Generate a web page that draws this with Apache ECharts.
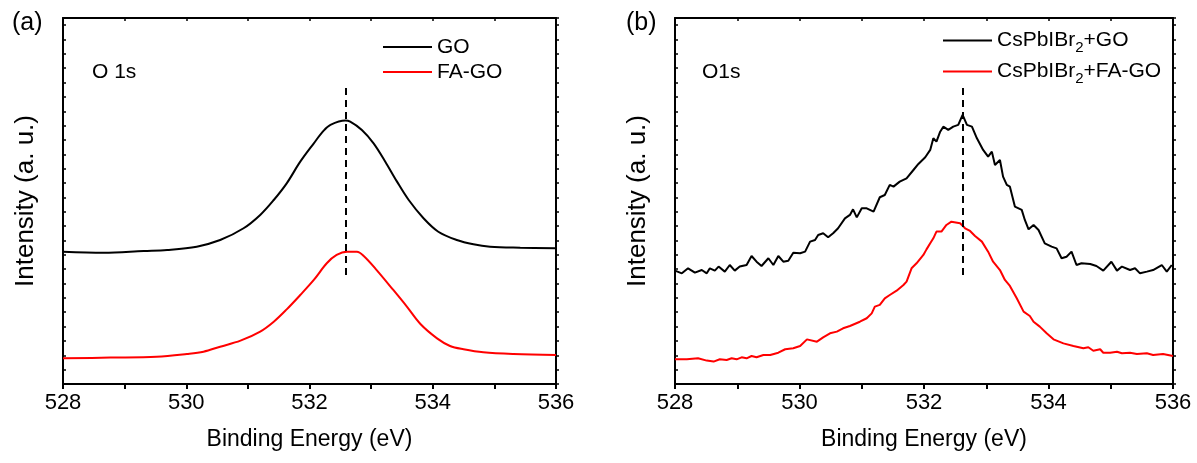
<!DOCTYPE html>
<html>
<head>
<meta charset="utf-8">
<script src="https://cdn.jsdelivr.net/npm/echarts@6/dist/echarts.min.js"></script>
<style>
html,body{margin:0;padding:0;background:#fff;}
#chart{width:1197px;height:463px;}
</style>
</head>
<body>
<div id="chart"></div>
<script>
// ---------- Data (Binding energy in eV, intensity in arbitrary units) ----------
const xTicks = [528, 530, 532, 534, 536];

// Panel (a)
const goEnergy = [528.0, 528.66, 529.31, 529.69, 530.17, 530.55, 530.93, 531.20, 531.42, 531.63, 531.85, 532.07, 532.23, 532.34, 532.58, 532.66, 532.85, 533.04, 533.23, 533.42, 533.61, 533.85, 534.09, 534.39, 534.66, 534.93, 535.42, 536.0];
const goIntensity = [9.22, 9.15, 9.27, 9.34, 9.57, 10.03, 10.85, 11.78, 12.82, 13.98, 15.49, 16.77, 17.65, 18.05, 18.35, 18.28, 17.70, 16.77, 15.49, 14.10, 12.82, 11.55, 10.61, 10.03, 9.73, 9.57, 9.50, 9.46];

const faGoEnergy = [528.0, 528.77, 529.52, 530.01, 530.28, 530.55, 530.88, 531.20, 531.42, 531.63, 531.85, 532.07, 532.28, 532.44, 532.61, 532.77, 532.88, 533.09, 533.36, 533.58, 533.80, 534.07, 534.28, 534.50, 534.82, 535.31, 536.0];
const faGoIntensity = [1.79, 1.84, 1.90, 2.09, 2.25, 2.60, 3.02, 3.65, 4.34, 5.20, 6.20, 7.25, 8.41, 8.99, 9.22, 9.22, 8.92, 7.94, 6.55, 5.39, 4.18, 3.18, 2.65, 2.42, 2.21, 2.09, 2.02];

// Panel (b)
const csGoEnergy = [528.0, 528.11, 528.21, 528.32, 528.43, 528.51, 528.56, 528.64, 528.70, 528.80, 528.88, 528.96, 529.04, 529.15, 529.23, 529.31, 529.39, 529.50, 529.58, 529.66, 529.74, 529.82, 529.90, 530.01, 530.09, 530.17, 530.25, 530.30, 530.38, 530.46, 530.54, 530.62, 530.73, 530.81, 530.86, 530.92, 531.00, 531.08, 531.19, 531.29, 531.37, 531.45, 531.51, 531.61, 531.72, 531.83, 531.91, 532.02, 532.10, 532.15, 532.20, 532.26, 532.31, 532.39, 532.47, 532.55, 532.62, 532.69, 532.77, 532.85, 532.95, 533.03, 533.09, 533.14, 533.22, 533.27, 533.33, 533.38, 533.46, 533.57, 533.62, 533.68, 533.76, 533.84, 533.94, 534.05, 534.13, 534.21, 534.29, 534.37, 534.45, 534.53, 534.67, 534.77, 534.88, 535.01, 535.10, 535.18, 535.31, 535.39, 535.47, 535.58, 535.68, 535.82, 535.90, 535.98];
const csGoIntensity = [7.90, 7.71, 8.06, 7.76, 7.94, 7.71, 8.06, 7.90, 8.18, 7.83, 8.29, 7.90, 8.18, 8.29, 8.92, 8.52, 8.22, 8.76, 8.29, 8.92, 8.52, 8.59, 9.15, 9.11, 9.22, 9.92, 10.03, 10.38, 10.50, 10.22, 10.50, 10.85, 11.54, 11.78, 12.17, 11.61, 12.24, 12.24, 12.01, 13.01, 13.17, 13.87, 13.75, 14.10, 14.33, 14.91, 15.33, 15.80, 16.31, 17.12, 16.89, 17.58, 17.93, 17.70, 17.93, 18.05, 18.75, 18.05, 17.93, 17.12, 16.31, 15.84, 16.19, 15.26, 15.61, 14.45, 13.87, 13.75, 12.36, 12.13, 11.43, 10.78, 11.08, 10.73, 9.80, 9.57, 9.45, 8.76, 8.87, 9.22, 8.29, 8.41, 8.36, 8.22, 7.90, 8.52, 7.90, 8.18, 7.94, 8.06, 7.71, 7.83, 7.94, 8.29, 7.83, 8.29];

const csFaGoEnergy = [528.0, 528.19, 528.37, 528.51, 528.62, 528.72, 528.83, 528.91, 528.99, 529.07, 529.15, 529.23, 529.31, 529.42, 529.53, 529.66, 529.77, 529.90, 530.01, 530.12, 530.28, 530.38, 530.49, 530.60, 530.62, 530.70, 530.81, 530.97, 531.08, 531.16, 531.21, 531.29, 531.37, 531.45, 531.56, 531.67, 531.72, 531.80, 531.88, 531.99, 532.04, 532.10, 532.15, 532.20, 532.28, 532.36, 532.44, 532.58, 532.66, 532.74, 532.82, 532.93, 533.03, 533.11, 533.22, 533.30, 533.38, 533.49, 533.60, 533.70, 533.76, 533.86, 533.97, 534.08, 534.24, 534.40, 534.56, 534.64, 534.72, 534.83, 534.88, 534.99, 535.10, 535.18, 535.31, 535.42, 535.58, 535.68, 535.84, 536.0];
const csFaGoIntensity = [1.72, 1.72, 1.79, 1.63, 1.56, 1.72, 1.67, 1.79, 1.72, 1.86, 1.79, 1.95, 1.86, 2.02, 2.02, 2.18, 2.42, 2.49, 2.65, 3.11, 2.95, 3.25, 3.53, 3.65, 3.53, 3.88, 4.04, 4.34, 4.58, 4.92, 5.39, 5.51, 5.97, 6.20, 6.50, 6.90, 7.13, 8.06, 8.41, 8.99, 9.38, 9.80, 10.15, 10.62, 10.62, 11.08, 11.31, 11.20, 10.85, 10.66, 10.31, 9.92, 9.22, 8.52, 7.94, 7.25, 6.83, 5.97, 5.04, 4.74, 4.34, 4.00, 3.53, 3.11, 2.83, 2.65, 2.49, 2.56, 2.32, 2.42, 2.18, 2.18, 2.25, 2.14, 2.18, 2.09, 2.14, 2.02, 2.09, 1.95];

// Peak guide lines: [energy, top intensity, bottom intensity]
const peakLineA = [532.59, 20.63, 7.46];
const peakLineB = [532.62, 20.63, 7.60];

const seriesNamesA = ['GO', 'FA-GO'];
const seriesNamesB = ['CsPbIBr2+GO', 'CsPbIBr2+FA-GO'];

// ---------- Chart ----------
const FONT = '"Liberation Sans", Arial, sans-serif';
const zip = (xs, ys) => xs.map((x, i) => [x, ys[i]]);

function xAxesFor(g) {
  return [
    {
      gridIndex: g, type: 'value', position: 'bottom', min: 528, max: 536, interval: 2,
      axisLine: { onZero: false, lineStyle: { color: '#000', width: 2 } },
      axisTick: { inside: false, length: 5, lineStyle: { color: '#000', width: 2 } },
      minorTick: { show: true, splitNumber: 2, length: 5, lineStyle: { color: '#000', width: 2 } },
      axisLabel: { margin: 8, color: '#000', fontSize: 22, fontFamily: FONT,
        customValues: xTicks },
      splitLine: { show: false },
      name: 'Binding Energy (eV)', nameLocation: 'middle', nameGap: 44,
      nameTextStyle: { color: '#000', fontSize: 23, fontFamily: FONT }
    },
    {
      gridIndex: g, type: 'value', position: 'top', min: 528, max: 536, interval: 1,
      axisLine: { onZero: false, lineStyle: { color: '#000', width: 2 } },
      axisTick: { inside: true, length: 3, lineStyle: { color: '#000', width: 1.5 } },
      axisLabel: { show: false }, splitLine: { show: false }
    }
  ];
}
function yAxesFor(g) {
  return [
    {
      gridIndex: g, type: 'value', position: 'left', min: 0, max: 25.5, interval: 1,
      axisLine: { onZero: false, lineStyle: { color: '#000', width: 2 } },
      axisTick: { inside: true, length: 3, lineStyle: { color: '#000', width: 1.5 } },
      axisLabel: { show: false }, splitLine: { show: false },
      name: 'Intensity (a. u.)', nameLocation: 'middle', nameGap: 24, nameRotate: 90,
      nameTextStyle: { color: '#000', fontSize: 26, fontFamily: FONT }
    },
    {
      gridIndex: g, type: 'value', position: 'right', min: 0, max: 25.5, interval: 1,
      axisLine: { onZero: false, lineStyle: { color: '#000', width: 2 } },
      axisTick: { inside: false, length: 3, lineStyle: { color: '#000', width: 1.5 } },
      axisLabel: { show: false }, splitLine: { show: false }
    }
  ];
}

function peakMark(p) {
  return {
    silent: true, symbol: 'none', animation: false,
    label: { show: false },
    lineStyle: { color: '#000', width: 2, type: [7, 5] },
    data: [[{ coord: [p[0], p[1]] }, { coord: [p[0], p[2]] }]]
  };
}

function lineSeries(name, xi, yi, data, color, smooth, mark) {
  const s = {
    name, type: 'line', xAxisIndex: xi, yAxisIndex: yi, data,
    showSymbol: false, symbol: 'none', smooth,
    color, itemStyle: { color },
    lineStyle: { color, width: 2 }, animation: false, z: 3
  };
  if (mark) s.markLine = mark;
  return s;
}

const legendText = { color: '#000', fontSize: 21, fontFamily: FONT, lineHeight: 22,
  rich: { sub: { fontSize: 15, fontFamily: FONT, color: '#000', lineHeight: 15, padding: [14, 0, 0, 0] } } };
const legendFmt = n => n.replace('Br2', 'Br{sub|2}');

const option = {
  backgroundColor: '#fff',
  animation: false,
  grid: [
    { left: 63, top: 18, width: 493, height: 366 },
    { left: 675, top: 18, width: 498, height: 366 }
  ],
  title: [
    { text: '(a)', left: 12, top: 11, padding: 0, textStyle: { fontSize: 25, fontWeight: 'normal', color: '#000', fontFamily: FONT } },
    { text: '(b)', left: 626, top: 11, padding: 0, textStyle: { fontSize: 25, fontWeight: 'normal', color: '#000', fontFamily: FONT } },
    { text: 'O 1s', left: 92, top: 62, padding: 0, textStyle: { fontSize: 21, fontWeight: 'normal', color: '#000', fontFamily: FONT } },
    { text: 'O1s', left: 702, top: 62, padding: 0, textStyle: { fontSize: 21, fontWeight: 'normal', color: '#000', fontFamily: FONT } }
  ],
  legend: [
    { data: seriesNamesA, orient: 'vertical', left: 383, top: 36, padding: 0, itemGap: 3,
      icon: 'rect', itemWidth: 49, itemHeight: 2, textStyle: legendText, formatter: legendFmt },
    { data: seriesNamesB, orient: 'vertical', left: 943, top: 26, padding: 0, itemGap: 2,
      icon: 'rect', itemWidth: 49, itemHeight: 2, textStyle: legendText, formatter: legendFmt }
  ],
  xAxis: [...xAxesFor(0), ...xAxesFor(1)],
  yAxis: [...yAxesFor(0), ...yAxesFor(1)],
  series: [
    lineSeries(seriesNamesA[0], 0, 0, zip(goEnergy, goIntensity), '#000000', 0.35, peakMark(peakLineA)),
    lineSeries(seriesNamesA[1], 0, 0, zip(faGoEnergy, faGoIntensity), '#ff0000', 0.35),
    lineSeries(seriesNamesB[0], 2, 2, zip(csGoEnergy, csGoIntensity), '#000000', false, peakMark(peakLineB)),
    lineSeries(seriesNamesB[1], 2, 2, zip(csFaGoEnergy, csFaGoIntensity), '#ff0000', false)
  ]
};

const chart = echarts.init(document.getElementById('chart'), null, { renderer: 'canvas' });
chart.setOption(option);
</script>
</body>
</html>
